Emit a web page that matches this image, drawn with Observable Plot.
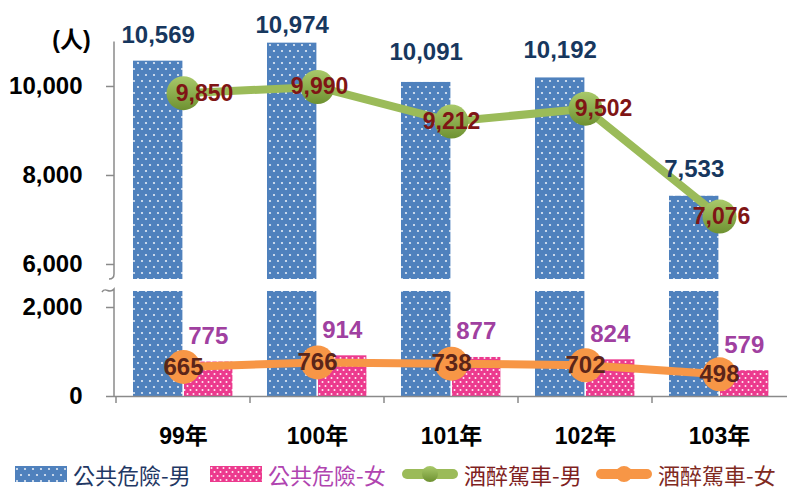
<!DOCTYPE html>
<html><head><meta charset="utf-8">
<script src="https://cdn.jsdelivr.net/npm/d3@7"></script>
<script src="https://cdn.jsdelivr.net/npm/@observablehq/plot@0.6"></script>
<style>
body{margin:0;background:#fff;}
#wrap{position:relative;width:787px;height:491px;overflow:hidden;font-family:"Liberation Sans","Noto Sans CJK TC",sans-serif;}
#wrap svg{display:block;}
.leg-item{position:absolute;top:459px;height:30px;display:flex;align-items:center;font-family:"Noto Sans CJK TC",sans-serif;font-size:22px;line-height:30px;white-space:nowrap;}
.leg-item svg{margin-right:6px;}
</style></head><body><div id="wrap"></div>
<script>
const years = ["99年","100年","101年","102年","103年"];
const publicMale = [10569, 10974, 10091, 10192, 7533];
const publicFemale = [775, 914, 877, 824, 579];
const drunkMale = [9850, 9990, 9212, 9502, 7076];
const drunkFemale = [665, 766, 738, 702, 498];
const yTicks = [0, 2000, 6000, 8000, 10000];
const seriesNames = ["公共危險-男", "公共危險-女", "酒醉駕車-男", "酒醉駕車-女"];
const unitLabel = "(人)";
const breakLow = 2360, breakHigh = 5663, yMax = 11000;

// style constants
const C = {
  blue: "#4F81BD", pink: "#EC3A8E", green: "#9BBB59", orange: "#F79646",
  blueText: "#17375E", pinkText: "#A040A0", greenText: "#7F1515", orangeText: "#5B2519",
  axis: "#8A8A8A"
};
const greenLabelDx = [21, 2, 0, 18, 2];
const blueLabelDy = [-18, -10, -22, -20, -19];
const legendLeft = [15, 210, 402, 596];
const legendText = ["#1F3864", "#B044B0", "#7F1F1F", "#7F2A1F"];

const data = years.map((y, i) => ({
  year: y, pm: publicMale[i], pf: publicFemale[i], dm: drunkMale[i], df: drunkFemale[i]
}));
const fmt = d3.format(",");

const W = 787, H = 459, mL = 114, y0px = 396, k = 0.0445, gapPx = 12;
const band = (W - mL) / years.length;
const yRange = [y0px, y0px - breakLow * k, y0px - breakLow * k - gapPx,
  y0px - breakLow * k - gapPx - (yMax - breakHigh) * k];

const txt = {fontWeight: "bold", fontFamily: "Liberation Sans, Noto Sans CJK TC, sans-serif"};

const chart = Plot.plot({
  width: W, height: H,
  marginLeft: mL, marginRight: 0, marginTop: 42, marginBottom: H - y0px,
  style: {fontFamily: "Liberation Sans, Noto Sans CJK TC, sans-serif", background: "#fff"},
  x: {type: "band", domain: years, padding: 0},
  y: {type: "linear", domain: [0, breakLow, breakHigh, yMax], range: yRange},
  marks: [
    Plot.barY(data, {x: "year", y1: 0, y2: d => Math.min(d.pm, breakLow), fill: "url(#patBlue)", insetLeft: 17, insetRight: band - 67}),
    Plot.barY(data, {x: "year", y1: breakHigh, y2: "pm", fill: "url(#patBlue)", insetLeft: 17, insetRight: band - 67}),
    Plot.barY(data, {x: "year", y1: 0, y2: "pf", fill: "url(#patPink)", insetLeft: 68, insetRight: band - 117}),
    Plot.ruleY([0], {stroke: C.axis, strokeWidth: 1.5}),
    Plot.axisY({ticks: yTicks, tickSize: 8, tickPadding: 24, tickFormat: fmt, stroke: C.axis, strokeWidth: 1.5,
      fill: "#000", fontSize: 24, fontWeight: "bold", label: null}),
    Plot.axisX({tickSize: 0, tickPadding: 31, fill: "#000", fontSize: 23, fontWeight: "bold", label: null}),
    Plot.line(data, {x: "year", y: "dm", stroke: C.green, strokeWidth: 8}),
    Plot.line(data, {x: "year", y: "df", stroke: C.orange, strokeWidth: 8}),
    Plot.dot(data, {x: "year", y: "dm", r: 17, fill: "url(#gradGreen)"}),
    Plot.dot(data, {x: "year", y: "df", r: 17, fill: C.orange}),
    ...data.map((d, i) => Plot.text([d], {x: "year", y: "pm", text: d => fmt(d.pm), dx: 42 - band / 2, dy: blueLabelDy[i], lineAnchor: "bottom",
      fill: C.blueText, fontSize: 24, ...txt})),
    Plot.text(data, {x: "year", y: "pf", text: d => fmt(d.pf), dx: 92 - band / 2, dy: -18, lineAnchor: "bottom",
      fill: C.pinkText, fontSize: 24, ...txt}),
    ...data.map((d, i) => Plot.text([d], {x: "year", y: "dm", text: d => fmt(d.dm), dx: greenLabelDx[i], lineAnchor: "middle",
      fill: C.greenText, fontSize: 23, ...txt})),
    Plot.text(data, {x: "year", y: "df", text: d => fmt(d.df), lineAnchor: "middle",
      fill: C.orangeText, fontSize: 24, ...txt}),
    Plot.text([unitLabel], {frameAnchor: "top-left", dx: -43, dy: -2, textAnchor: "middle", lineAnchor: "middle", text: d => d,
      fill: "#000", fontSize: 23, ...txt})
  ]
});

const svg = d3.select(chart);
svg.insert("defs", ":first-child").html(`
  <pattern id="patBlue" patternUnits="userSpaceOnUse" width="8" height="12">
    <rect width="8" height="12" fill="${C.blue}"/>
    <circle cx="2" cy="3" r="1.1" fill="#fff" fill-opacity="0.85"/>
    <circle cx="6" cy="9" r="1.1" fill="#fff" fill-opacity="0.85"/>
  </pattern>
  <pattern id="patPink" patternUnits="userSpaceOnUse" width="6" height="8">
    <rect width="6" height="8" fill="${C.pink}"/>
    <circle cx="1.5" cy="2" r="1" fill="#fff" fill-opacity="0.9"/>
    <circle cx="4.5" cy="6" r="1" fill="#fff" fill-opacity="0.9"/>
  </pattern>
  <linearGradient id="gradGreen" x1="0" y1="0" x2="0" y2="1">
    <stop offset="0" stop-color="#A9C96A"/>
    <stop offset="1" stop-color="#6E9131"/>
  </linearGradient>`);

// broken y-axis line and x ticks drawn from the Plot scales
const ys = chart.scale("y"), xs = chart.scale("x");
const yTop = ys.apply(yMax), yUp = ys.apply(breakHigh), yLo = ys.apply(breakLow), yZero = ys.apply(0);
const g = svg.append("g").attr("fill", "none").attr("stroke", C.axis).attr("stroke-width", 1.5);
g.append("path").attr("d", `M${mL},${yTop}L${mL},${yUp - 5}Q${mL},${yUp} ${mL - 5},${yUp}`);
g.append("path").attr("d", `M${mL - 12},${yLo + 1}C${mL - 8},${yLo - 5} ${mL - 5},${yLo + 4} ${mL},${yLo - 2}L${mL},${yZero}`);
years.forEach(yr => {
  const xp = xs.apply(yr);
  g.append("line").attr("x1", xp).attr("x2", xp).attr("y1", yZero).attr("y2", yZero + 7);
});

const wrap = document.getElementById("wrap");
wrap.appendChild(chart);

// legend
const swatches = [
  `<svg width="52" height="16"><rect width="52" height="16" fill="url(#patBlue)"/></svg>`,
  `<svg width="52" height="16"><rect width="52" height="16" fill="url(#patPink)"/></svg>`,
  `<svg width="56" height="20"><line x1="5" x2="51" y1="10" y2="10" stroke="${C.green}" stroke-width="10" stroke-linecap="round"/><circle cx="28" cy="10" r="8" fill="url(#gradGreen)"/></svg>`,
  `<svg width="56" height="20"><line x1="5" x2="51" y1="10" y2="10" stroke="${C.orange}" stroke-width="10" stroke-linecap="round"/><circle cx="28" cy="10" r="8" fill="${C.orange}"/></svg>`
];
seriesNames.forEach((name, i) => {
  const it = document.createElement("div");
  it.className = "leg-item";
  it.style.left = legendLeft[i] + "px";
  it.innerHTML = swatches[i] + `<span style="color:${legendText[i]}">${name}</span>`;
  wrap.appendChild(it);
});
</script></body></html>
